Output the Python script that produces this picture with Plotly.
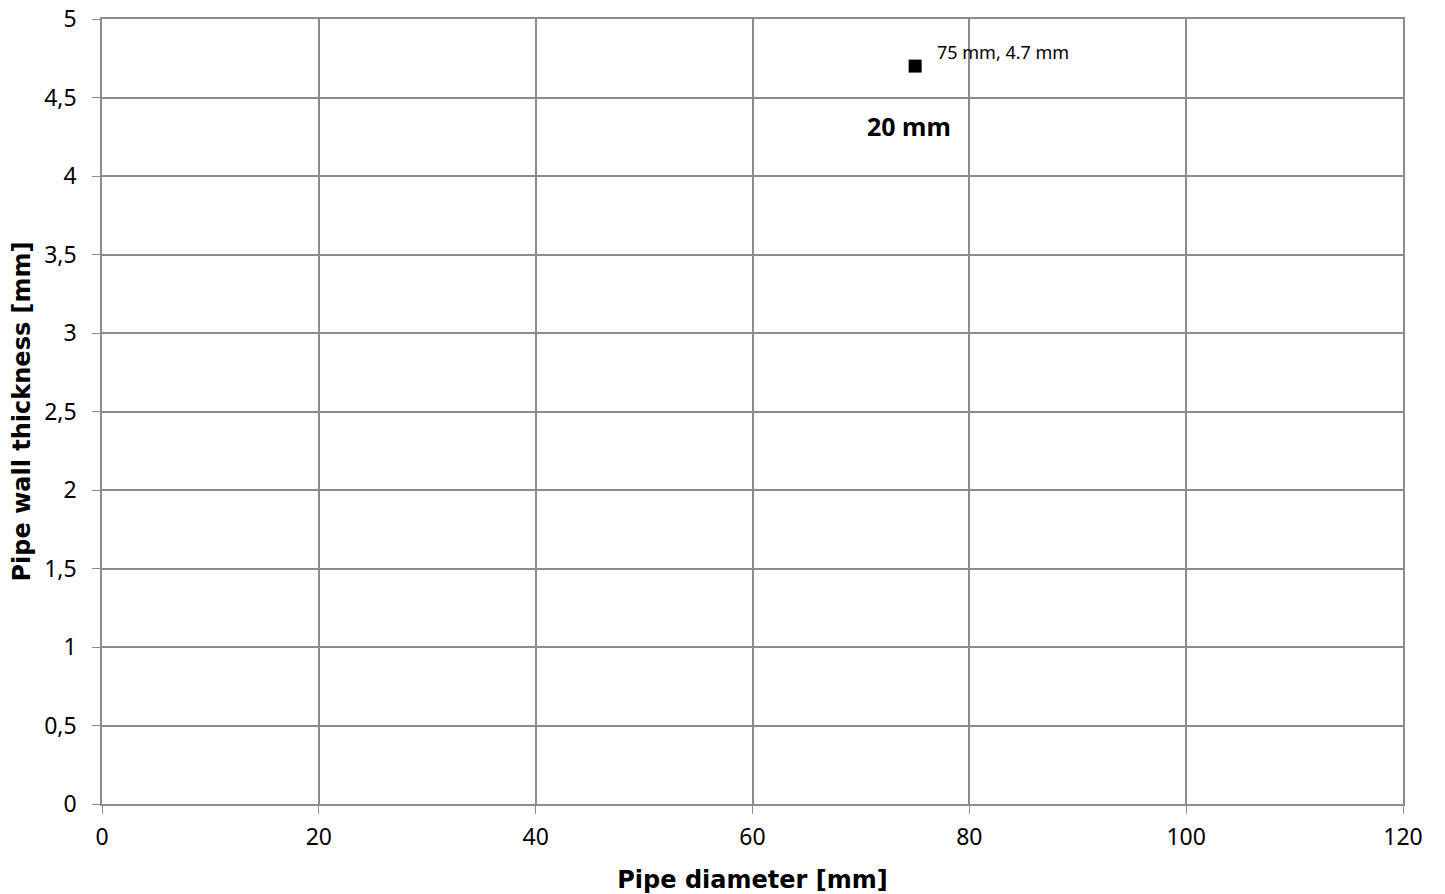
import plotly.graph_objects as go

x_vals = [75]
y_vals = [4.7]
point_labels = ["75 mm, 4.7 mm"]
group_label = "20 mm"
group_label_pos = (74.4, 4.32)
x_ticks = [0, 20, 40, 60, 80, 100, 120]
y_ticks = [0, 0.5, 1, 1.5, 2, 2.5, 3, 3.5, 4, 4.5, 5]

FONT = "Noto Sans"
TITLE_FONT = "DejaVu Sans"
GRID = "#8c8c8c"

fig = go.Figure()
fig.add_trace(go.Scatter(
    x=x_vals, y=y_vals, mode="markers",
    marker=dict(symbol="square", size=13, color="black"),
    showlegend=False, cliponaxis=False,
))
for xv, yv, lab in zip(x_vals, y_vals, point_labels):
    fig.add_annotation(
        x=xv, y=yv, text=lab, showarrow=False,
        xanchor="left", yanchor="middle", xshift=20, yshift=14,
        font=dict(family=FONT, size=18, color="black"),
    )
fig.add_annotation(
    x=group_label_pos[0], y=group_label_pos[1], text="<b>" + group_label + "</b>",
    showarrow=False, font=dict(family=FONT, size=25, color="black"),
    xanchor="center", yanchor="middle",
)
fig.update_layout(
    width=1445, height=894,
    margin=dict(l=94, r=50, t=11, b=98),
    plot_bgcolor="white", paper_bgcolor="white",
    separators=",.",
    font=dict(family=FONT, size=23, color="black"),
)
fig.update_xaxes(
    range=[0, 120], tickvals=x_ticks, showgrid=True, gridcolor=GRID, gridwidth=1.5,
    showline=True, linecolor=GRID, linewidth=1.5, mirror=True,
    ticks="outside", ticklen=8, tickcolor=GRID, zeroline=False,
    ticklabelstandoff=4, automargin=False, ticklabeloverflow="allow",
    title=dict(text="<b>Pipe diameter [mm]</b>", font=dict(family=TITLE_FONT, size=24), standoff=20),
)
fig.update_yaxes(
    range=[0, 5], tickvals=y_ticks, showgrid=True, gridcolor=GRID, gridwidth=1.5,
    showline=True, linecolor=GRID, linewidth=1.5, mirror=True,
    ticks="outside", ticklen=8, tickcolor=GRID, zeroline=False,
    ticklabelstandoff=11, automargin=False, ticklabeloverflow="allow",
    title=dict(text="<b>Pipe wall thickness [mm]</b>", font=dict(family=TITLE_FONT, size=24), standoff=13),
)
fig.write_html("out.html")
